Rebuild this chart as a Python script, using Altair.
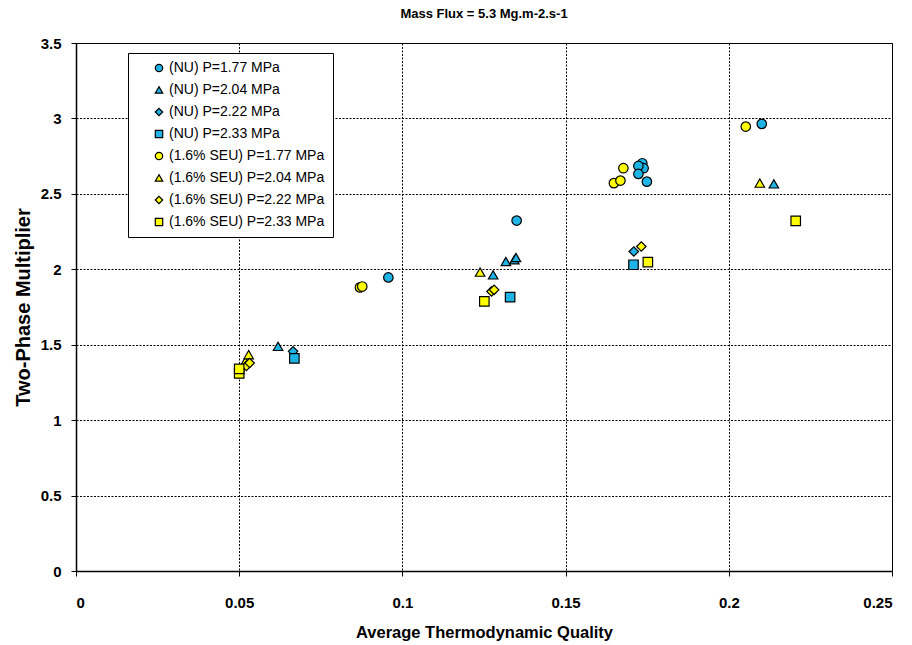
import altair as alt
import pandas as pd

# --- data ---
series_names = [
    "(NU) P=1.77 MPa", "(NU) P=2.04 MPa", "(NU) P=2.22 MPa", "(NU) P=2.33 MPa",
    "(1.6% SEU) P=1.77 MPa", "(1.6% SEU) P=2.04 MPa", "(1.6% SEU) P=2.22 MPa", "(1.6% SEU) P=2.33 MPa",
]

nu177_x = [0.0957, 0.1350, 0.1735, 0.1739, 0.1723, 0.1723, 0.1749, 0.2101]
nu177_y = [1.946, 2.323, 2.703, 2.670, 2.685, 2.632, 2.581, 2.964]
nu204_x = [0.0619, 0.1278, 0.1317, 0.1343, 0.1348, 0.2138]
nu204_y = [1.489, 1.963, 2.052, 2.063, 2.078, 2.566]
nu222_x = [0.0665, 0.1709]
nu222_y = [1.456, 2.118]
nu233_x = [0.0669, 0.1330, 0.1708]
nu233_y = [1.410, 1.816, 2.030]
seu177_x = [0.0870, 0.0877, 0.1648, 0.1668, 0.1677, 0.2052]
seu177_y = [1.880, 1.886, 2.571, 2.588, 2.670, 2.946]
seu204_x = [0.0519, 0.0529, 0.1238, 0.2095]
seu204_y = [1.390, 1.434, 1.981, 2.571]
seu222_x = [0.0522, 0.0532, 0.1273, 0.1281, 0.1732]
seu222_y = [1.360, 1.379, 1.853, 1.864, 2.151]
seu233_x = [0.0500, 0.0500, 0.1251, 0.1752, 0.2205]
seu233_y = [1.310, 1.340, 1.787, 2.048, 2.321]

xs = [nu177_x, nu204_x, nu222_x, nu233_x, seu177_x, seu204_x, seu222_x, seu233_x]
ys = [nu177_y, nu204_y, nu222_y, nu233_y, seu177_y, seu204_y, seu222_y, seu233_y]

x_ticks = [0, 0.05, 0.1, 0.15, 0.2, 0.25]
y_ticks = [0, 0.5, 1, 1.5, 2, 2.5, 3, 3.5]

BLUE = "#1EB4E6"
YELLOW = "#FFFF00"
fills = [BLUE] * 4 + [YELLOW] * 4
shapes = ["circle", "triangle-up", "diamond", "square"] * 2
strokes = ["black"] * 8

rows = []
for name, sx, sy in zip(series_names, xs, ys):
    for a, b in zip(sx, sy):
        rows.append({"series": name, "x": a, "y": b})
df = pd.DataFrame(rows)

FONT = "Liberation Sans"

legend = alt.Legend(title=None, orient="none", legendX=52, legendY=10,
                    strokeColor="black", fillColor="white", padding=8,
                    labelFont=FONT, labelFontSize=14, labelColor="black",
                    symbolSize=55, symbolOffset=16, rowPadding=8,
                    symbolStrokeWidth=1.2,
                    labelOffset=3, labelLimit=300)

chart = alt.Chart(df).mark_point(
    filled=True, strokeWidth=1.2, size=90, opacity=1
).encode(
    x=alt.X("x:Q", scale=alt.Scale(domain=[0, 0.25], nice=False),
            axis=alt.Axis(title="Average Thermodynamic Quality", values=x_ticks,
                          format="~g", labelPadding=19, titlePadding=14,
                          titleFontSize=16.5)),
    y=alt.Y("y:Q", scale=alt.Scale(domain=[0, 3.5], nice=False),
            axis=alt.Axis(title="Two-Phase Multiplier", values=y_ticks,
                          format="~g", labelPadding=10, titlePadding=7,
                          titleFontSize=20)),
    fill=alt.Fill("series:N", scale=alt.Scale(domain=series_names, range=fills),
                  legend=legend),
    shape=alt.Shape("series:N", scale=alt.Scale(domain=series_names, range=shapes),
                    legend=legend),
    stroke=alt.Stroke("series:N", scale=alt.Scale(domain=series_names, range=strokes),
                      legend=legend),
).properties(
    width=816, height=528,
    title=alt.TitleParams("Mass Flux = 5.3 Mg.m-2.s-1", font=FONT, fontSize=13,
                          fontWeight="bold", anchor="middle", offset=15, color="black"),
    autosize=alt.AutoSizeParams(type="none"),
    padding={"left": 76, "top": 43, "right": 20, "bottom": 74},
).configure_view(
    stroke="black", strokeWidth=1
).configure_axis(
    grid=True, gridColor="black", gridDash=[2, 1.5], gridWidth=1, gridOpacity=1,
    domainColor="black", domainWidth=1.5, tickColor="black", tickSize=5,
    labelFont=FONT, labelFontSize=15, labelFontWeight="bold", labelColor="black",
    titleFont=FONT, titleFontWeight="bold", titleColor="black",
)

chart.save("out.html", embed_options={"renderer": "svg", "actions": False})
